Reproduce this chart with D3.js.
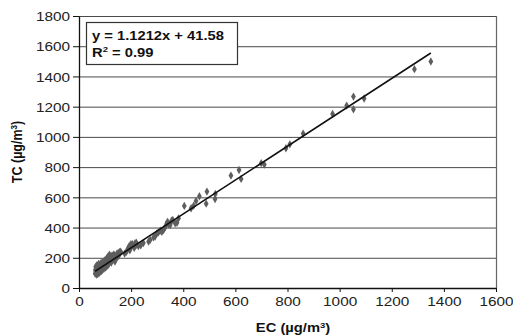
<!DOCTYPE html>
<html>
<head>
<meta charset="utf-8">
<script src="https://cdn.jsdelivr.net/npm/d3@7"></script>
<style>
  body { margin: 0; background: #fff; }
  svg { display: block; font-family: "Liberation Sans", Arial, sans-serif; }
</style>
</head>
<body>
<figure id="scatter" style="margin:0"></figure>
<script>
// EC vs TC measurements (ug/m3)
const ecValues = [
  62, 63, 64, 65, 66, 67, 68, 69, 70, 70, 71, 72, 73, 74, 75, 76, 77, 78, 79, 80,
  81, 82, 83, 84, 85, 86, 87, 88, 89, 90, 91, 92, 93, 94, 95, 96, 97, 98, 99, 100,
  101, 102, 103, 104, 105, 106, 107, 108, 109, 110, 111, 112, 113, 114, 115, 116, 117, 118, 119, 120,
  122, 124, 125, 127, 128, 130, 132, 134, 136, 138, 140, 142, 145, 148, 150, 153, 156, 160,
  64, 68, 72, 76, 80, 84, 88, 92, 96, 100, 104, 108, 112, 116, 120, 126, 132,
  175, 182, 188, 192, 195, 198, 200, 204, 208, 212, 215, 220, 222, 228, 237, 247,
  267, 273, 286, 299, 292, 305, 312, 318, 324, 328, 333, 337, 340, 345, 350, 355, 360, 369, 376, 382,
  404, 430, 440, 449, 462, 488, 491, 522, 523,
  583, 614, 622, 699, 711, 794, 809, 860, 973, 1027, 1053, 1053, 1094, 1287, 1350
];
const tcValues = [
  95, 120, 140, 105, 130, 88, 150, 115, 100, 135, 125, 92, 145, 110, 160, 120, 98, 138, 128, 155,
  108, 142, 118, 165, 130, 112, 150, 125, 170, 140, 120, 158, 135, 175, 148, 128, 165, 145, 182, 155,
  135, 170, 150, 190, 160, 142, 178, 200, 165, 185, 150, 210, 172, 195, 160, 188, 220, 175, 200, 182,
  210, 168, 195, 215, 185, 205, 190, 222, 200, 175, 210, 195, 225, 205, 232, 215, 238, 240,
  112, 128, 118, 140, 132, 150, 138, 162, 152, 170, 158, 185, 170, 198, 176, 200, 212,
  228, 240, 262, 275, 250, 288, 270, 292, 280, 265, 296, 300, 285, 278, 282, 298,
  307, 318, 335, 362, 340, 368, 380, 372, 384, 395, 410, 428, 438, 420, 417, 445, 450, 428, 432, 461,
  543, 528, 545, 576, 607, 558, 638, 589, 622,
  744, 781, 722, 826, 817, 925, 951, 1022, 1152, 1207, 1267, 1183, 1254, 1448, 1499
];
const xTicks = [0, 200, 400, 600, 800, 1000, 1200, 1400, 1600];
const yTicks = [0, 200, 400, 600, 800, 1000, 1200, 1400, 1600, 1800];
const slope = 1.1212, intercept = 41.58;
const fitLabel = "y = 1.1212x + 41.58";
const r2Label = "0.99";

const W = 513, H = 336;
const plotLeft = 79, plotRight = 496, plotTop = 16, plotBottom = 288;
const sx = 1.18; // text in the picture is a bit stretched sideways

const svg = d3.select("figure#scatter").append("svg")
  .attr("width", W).attr("height", H);

const x = d3.scaleLinear().domain([0, 1600]).range([plotLeft, plotRight]);
const y = d3.scaleLinear().domain([0, 1800]).range([plotBottom, plotTop]);

// gridlines
svg.append("g").selectAll("line")
  .data(yTicks.filter(d => d > 0))
  .enter().append("line")
  .attr("x1", plotLeft).attr("x2", plotRight)
  .attr("y1", d => y(d) + 0.5).attr("y2", d => y(d) + 0.5)
  .attr("stroke", "#4a4a4a").attr("stroke-width", 1);

// right border
svg.append("line")
  .attr("x1", plotRight + 0.5).attr("x2", plotRight + 0.5)
  .attr("y1", plotTop).attr("y2", plotBottom)
  .attr("stroke", "#666").attr("stroke-width", 1.2);

// axes
const xAxis = svg.append("g")
  .attr("transform", "translate(0," + plotBottom + ")")
  .call(d3.axisBottom(x).tickValues(xTicks).tickFormat(d3.format("d")).tickSize(4).tickSizeOuter(0));
const yAxis = svg.append("g")
  .attr("transform", "translate(" + plotLeft + ",0)")
  .call(d3.axisLeft(y).tickValues(yTicks).tickFormat(d3.format("d")).tickSize(6).tickSizeOuter(0));

[xAxis, yAxis].forEach(g => {
  g.select(".domain").attr("stroke", "#111").attr("stroke-width", 1.3);
  g.selectAll(".tick line").attr("stroke", "#111");
  g.selectAll(".tick text")
    .attr("fill", "#222")
    .style("font-size", "13px")
    .style("font-family", "'Liberation Sans', Arial, sans-serif");
});
xAxis.selectAll(".tick text").attr("y", 9).attr("dy", "0.71em")
  .attr("transform", `scale(${sx},1)`);
yAxis.selectAll(".tick text").attr("x", -9 / sx).attr("dy", "0.36em")
  .attr("transform", `scale(${sx},1)`);

// points
svg.append("g").selectAll("path")
  .data(ecValues.map((d, i) => [d, tcValues[i]]))
  .enter().append("path")
  .attr("d", d3.symbol().type(d3.symbolDiamond).size(20))
  .attr("transform", d => "translate(" + x(d[0]) + "," + y(d[1]) + ")")
  .attr("fill", "#5e5e5e");

// trendline over data range
const x0 = d3.min(ecValues), x1 = d3.max(ecValues);
svg.append("line")
  .attr("x1", x(x0)).attr("y1", y(slope * x0 + intercept))
  .attr("x2", x(x1)).attr("y2", y(slope * x1 + intercept))
  .attr("stroke", "#111").attr("stroke-width", 1.6);

// equation box
svg.append("rect")
  .attr("x", 86.5).attr("y", 22.5).attr("width", 151).attr("height", 42)
  .attr("fill", "#fff").attr("stroke", "#333").attr("stroke-width", 1.2);
const eq = svg.append("g").attr("transform", `translate(92,0) scale(${sx},1)`)
  .style("font-size", "12.5px").style("font-weight", "bold").attr("fill", "#111");
eq.append("text").attr("x", 0).attr("y", 40).text(fitLabel);
const r2 = eq.append("text").attr("x", 0).attr("y", 57);
r2.append("tspan").text("R");
r2.append("tspan").attr("dy", -5).style("font-size", "8px").text("2");
r2.append("tspan").attr("dy", 5).text(" = " + r2Label);

// axis titles
const xt = svg.append("text")
  .attr("transform", `translate(293,332) scale(${sx},1)`)
  .attr("text-anchor", "middle").style("font-size", "12.5px").style("font-weight", "bold")
  .attr("fill", "#111");
xt.append("tspan").text("EC (\u00b5g/m");
xt.append("tspan").attr("dy", -4).style("font-size", "8px").text("3");
xt.append("tspan").attr("dy", 4).text(")");

const yt = svg.append("text")
  .attr("transform", `translate(22,${(plotTop + plotBottom) / 2}) scale(${sx},1) rotate(-90)`)
  .attr("text-anchor", "middle").style("font-size", "12.5px").style("font-weight", "bold")
  .attr("fill", "#111");
yt.append("tspan").text("TC (\u00b5g/m");
yt.append("tspan").attr("dy", -4).style("font-size", "8px").text("3");
yt.append("tspan").attr("dy", 4).text(")");
</script>
</body>
</html>
